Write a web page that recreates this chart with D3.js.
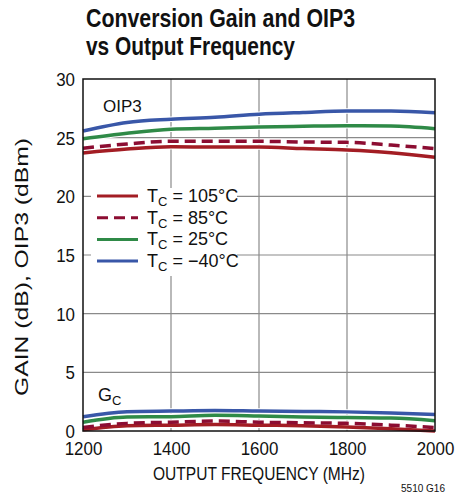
<!DOCTYPE html>
<html lang="en">
<head>
<meta charset="utf-8">
<title>Conversion Gain and OIP3</title>
<script src="https://cdn.jsdelivr.net/npm/d3@7"></script>
<style>
  body { margin: 0; background: #fff; }
  text { font-family: "Liberation Sans Narrow", "Liberation Sans", Arial, sans-serif; fill: #111; }
</style>
</head>
<body>
<script>
var freq = [1200, 1300, 1400, 1500, 1600, 1700, 1800, 1900, 2000];

// OIP3 (dBm)
var oip3_105 = [23.7, 24.03, 24.23, 24.2, 24.2, 24.07, 23.95, 23.72, 23.33];
var oip3_85 = [24.1, 24.46, 24.69, 24.69, 24.69, 24.63, 24.6, 24.37, 24.06];
var oip3_25 = [24.9, 25.37, 25.71, 25.8, 25.9, 25.97, 26.02, 26.0, 25.77];
var oip3_m40 = [25.57, 26.3, 26.57, 26.74, 27.0, 27.15, 27.27, 27.27, 27.13];

// conversion gain (dB)
var gain_105 = [0.1, 0.45, 0.5, 0.55, 0.5, 0.45, 0.35, 0.2, 0.0];
var gain_85 = [0.3, 0.65, 0.75, 0.85, 0.75, 0.7, 0.65, 0.5, 0.3];
var gain_25 = [0.74, 1.19, 1.22, 1.34, 1.28, 1.2, 1.14, 1.1, 0.88];
var gain_m40 = [1.22, 1.65, 1.7, 1.74, 1.7, 1.67, 1.63, 1.53, 1.4];

var xTicks = [1200, 1400, 1600, 1800, 2000];
var yTicks = [0, 5, 10, 15, 20, 25, 30];

var series = [
  {temp: "105°C", color: "#a31d24", dash: null, oip3: oip3_105, gain: gain_105},
  {temp: "85°C", color: "#8c0d32", dash: "11,6", oip3: oip3_85, gain: gain_85},
  {temp: "25°C", color: "#2f8a47", dash: null, oip3: oip3_25, gain: gain_25},
  {temp: "\u221240°C", color: "#3957a8", dash: null, oip3: oip3_m40, gain: gain_m40}
];

var w = 455, h = 496;
var pl = 83, pr = 435, pt = 79, pb = 431;

var svg = d3.select("body").append("svg")
  .attr("width", w)
  .attr("height", h);

var x = d3.scaleLinear().domain([1200, 2000]).range([pl, pr]);
var y = d3.scaleLinear().domain([0, 30]).range([pb, pt]);

// title
svg.append("text").attr("x", 86).attr("y", 27)
  .attr("font-size", 25).attr("font-weight", "bold")
  .attr("textLength", 269).attr("lengthAdjust", "spacingAndGlyphs")
  .text("Conversion Gain and OIP3");
svg.append("text").attr("x", 86).attr("y", 55)
  .attr("font-size", 25).attr("font-weight", "bold")
  .attr("textLength", 209).attr("lengthAdjust", "spacingAndGlyphs")
  .text("vs Output Frequency");

// grid
var grid = svg.append("g").attr("stroke", "#8a8a8a").attr("stroke-width", 1.2);
grid.selectAll(".gx").data(xTicks.slice(1, -1)).enter().append("line")
  .attr("x1", function(d) { return x(d); }).attr("x2", function(d) { return x(d); })
  .attr("y1", pt).attr("y2", pb);
grid.selectAll(".gy").data(yTicks.slice(1, -1)).enter().append("line")
  .attr("y1", function(d) { return y(d); }).attr("y2", function(d) { return y(d); })
  .attr("x1", pl).attr("x2", pr);

// legend background (hides grid behind it)
svg.append("rect").attr("x", 91).attr("y", 188).attr("width", 146).attr("height", 88)
  .attr("fill", "#fff");

// curves
var line = d3.line()
  .x(function(d, i) { return x(freq[i]); })
  .y(function(d) { return y(d); })
  .curve(d3.curveMonotoneX);

var curves = svg.append("g");
series.forEach(function(s) {
  [s.oip3, s.gain].forEach(function(vals) {
    curves.append("path").attr("d", line(vals))
      .attr("fill", "none").attr("stroke", "#fff").attr("stroke-width", 5.5);
  });
});
series.forEach(function(s) {
  [s.oip3, s.gain].forEach(function(vals) {
    curves.append("path").attr("d", line(vals))
      .attr("fill", "none").attr("stroke", s.color).attr("stroke-width", 3.5)
      .attr("stroke-dasharray", s.dash);
  });
});

// frame
svg.append("rect").attr("x", pl).attr("y", pt)
  .attr("width", pr - pl).attr("height", pb - pt)
  .attr("fill", "none").attr("stroke", "#111").attr("stroke-width", 1.5);

// axes
var yAxis = svg.append("g").attr("transform", "translate(" + pl + ",0)")
  .call(d3.axisLeft(y).tickValues(yTicks).tickSize(0).tickPadding(8));
var xAxis = svg.append("g").attr("transform", "translate(0," + pb + ")")
  .call(d3.axisBottom(x).tickValues(xTicks).tickSize(0).tickPadding(11).tickFormat(d3.format("d")));
[yAxis, xAxis].forEach(function(a) {
  a.select(".domain").remove();
  a.selectAll("text").attr("font-size", 19)
    .style("font-family", "'Liberation Sans Narrow', 'Liberation Sans', Arial, sans-serif")
    .attr("fill", "#111")
    .attr("textLength", function(d) { return String(d).length * 9.4; })
    .attr("lengthAdjust", "spacingAndGlyphs");
});
yAxis.selectAll("text").attr("dy", "0.35em");

// axis titles
svg.append("text").attr("x", 259).attr("y", 480).attr("text-anchor", "middle")
  .attr("font-size", 19).attr("textLength", 212).attr("lengthAdjust", "spacingAndGlyphs")
  .text("OUTPUT FREQUENCY (MHz)");
svg.append("text").attr("transform", "translate(28,267) rotate(-90)")
  .attr("text-anchor", "middle").attr("font-size", 19)
  .attr("textLength", 258).attr("lengthAdjust", "spacingAndGlyphs")
  .text("GAIN (dB), OIP3 (dBm)");

svg.append("text").attr("x", 445).attr("y", 492).attr("text-anchor", "end")
  .attr("font-size", 10).text("5510 G16");

// curve labels
svg.append("text").attr("x", 103).attr("y", 112).attr("font-size", 17).text("OIP3");
var gc = svg.append("text").attr("x", 98).attr("y", 401).attr("font-size", 18);
gc.append("tspan").text("G");
gc.append("tspan").attr("font-size", 13).attr("dy", 4).text("C");

// legend
var leg = svg.append("g").selectAll("g").data(series).enter().append("g")
  .attr("transform", function(d, i) { return "translate(97," + (196 + i * 21.7) + ")"; });
leg.append("line").attr("x1", 0).attr("x2", 41)
  .attr("stroke", function(d) { return d.color; }).attr("stroke-width", 3)
  .attr("stroke-dasharray", function(d) { return d.dash; });
var lt = leg.append("text").attr("x", 50).attr("y", 6).attr("font-size", 18);
lt.append("tspan").text("T");
lt.append("tspan").attr("font-size", 13).attr("dy", 4).text("C");
lt.append("tspan").attr("dy", -4).text(function(d) { return " = " + d.temp; });
</script>
</body>
</html>
